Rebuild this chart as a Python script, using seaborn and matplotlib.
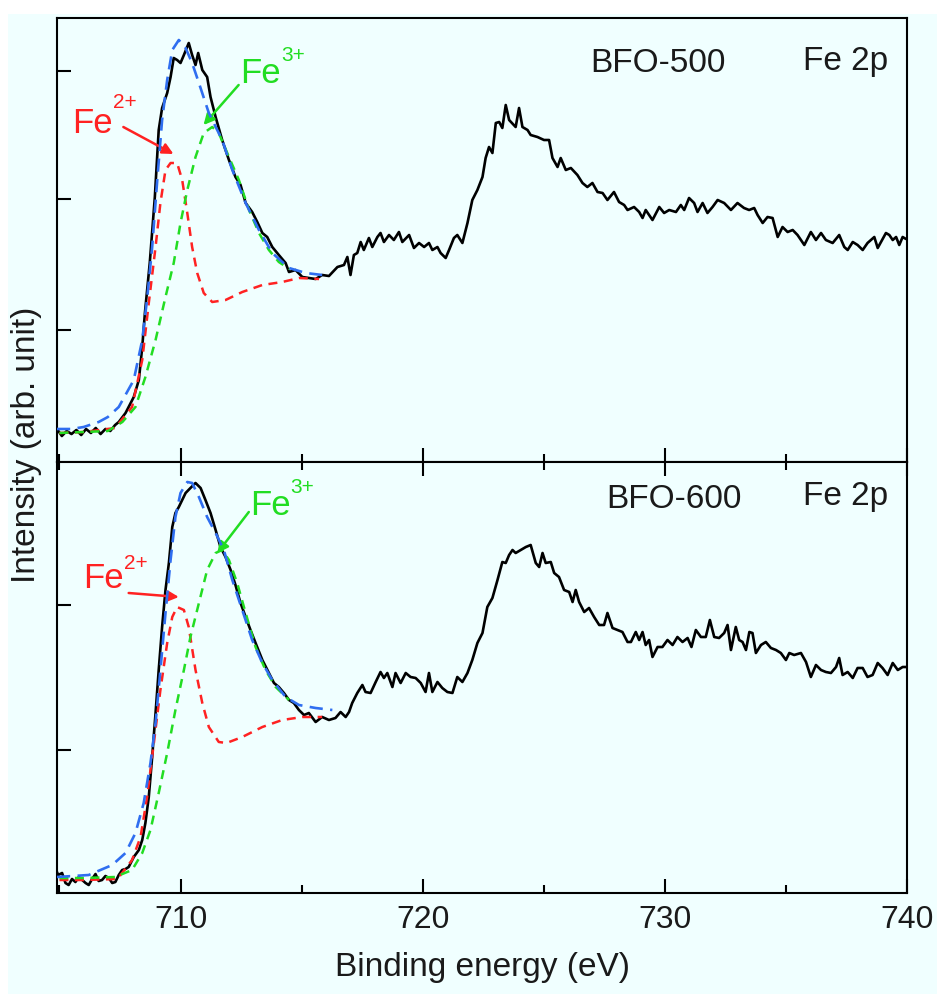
import matplotlib
matplotlib.use("Agg")
import matplotlib.pyplot as plt
import seaborn as sns
from matplotlib.patches import Rectangle
from matplotlib.ticker import MultipleLocator

# ---------------- data (binding energy in eV, intensity in arb. units) ----------------
# BFO-500 (top panel) measured spectrum
e500 = [704.90, 705.10, 705.30, 705.50, 705.70, 705.90, 706.10, 706.30, 706.50, 706.70,
        706.90, 707.10, 707.30, 707.45, 707.73, 708.07, 708.28, 708.42, 708.53, 708.73,
        708.94, 709.10, 709.24, 709.45, 709.59, 709.72, 709.86, 710.00, 710.14, 710.34,
        710.48, 710.62, 710.73, 710.90, 711.10, 711.24, 711.45, 711.72, 712.00, 712.27,
        712.48, 712.69, 712.96, 713.17, 713.38, 713.58, 713.79, 714.06, 714.34, 714.48,
        714.75, 715.03, 715.30, 715.58, 715.85, 716.13, 716.48, 716.75, 716.89, 717.02,
        717.16, 717.30, 717.44, 717.57, 717.78, 717.92, 718.13, 718.26, 718.40, 718.61,
        718.81, 719.02, 719.16, 719.44, 719.64, 719.85, 720.06, 720.26, 720.40, 720.61,
        720.74, 720.95, 721.09, 721.29, 721.43, 721.64, 721.85, 722.05, 722.26, 722.47,
        722.60, 722.74, 722.88, 723.02, 723.16, 723.29, 723.43, 723.57, 723.84, 723.98,
        724.12, 724.33, 724.46, 724.74, 725.01, 725.22, 725.36, 725.57, 725.70, 725.91,
        726.12, 726.39, 726.60, 726.80, 727.01, 727.22, 727.43, 727.63, 727.90, 728.11,
        728.32, 728.46, 728.73, 728.94, 729.08, 729.21, 729.49, 729.77, 729.97, 730.18,
        730.46, 730.66, 730.80, 731.00, 731.21, 731.35, 731.56, 731.76, 731.97, 732.18,
        732.45, 732.73, 733.00, 733.27, 733.48, 733.69, 733.83, 734.04, 734.24, 734.45,
        734.66, 734.86, 735.07, 735.28, 735.48, 735.76, 736.03, 736.24, 736.45, 736.65,
        736.93, 737.20, 737.41, 737.55, 737.76, 737.96, 738.17, 738.37, 738.65, 738.79,
        739.13, 739.27, 739.41, 739.55, 739.68, 739.82, 739.96]
i500 = [33, 26, 31, 28, 32, 27, 33, 29, 34, 28,
        33, 31, 37, 40, 49, 65, 82, 115, 149, 199,
        265, 332, 354, 369, 385, 404, 402, 399, 407, 419,
        407, 397, 409, 392, 385, 365, 345, 322, 302, 285,
        277, 259, 250, 240, 229, 225, 215, 207, 199, 190,
        192, 185, 184, 183, 187, 186, 195, 197, 205, 187,
        207, 209, 220, 212, 224, 215, 225, 229, 220, 227,
        222, 230, 220, 227, 214, 219, 215, 219, 212, 215,
        209, 204, 212, 224, 227, 219, 239, 262, 272, 285,
        304, 315, 309, 339, 340, 334, 357, 342, 335, 354,
        335, 332, 327, 325, 322, 322, 304, 295, 304, 292,
        294, 287, 279, 275, 279, 270, 269, 262, 270, 260,
        257, 252, 255, 250, 244, 252, 242, 255, 249, 252,
        250, 257, 252, 264, 259, 250, 259, 249, 255, 262,
        259, 252, 259, 254, 252, 254, 247, 239, 245, 244,
        225, 235, 230, 232, 227, 217, 230, 222, 229, 222,
        219, 227, 215, 212, 220, 217, 212, 219, 225, 214,
        229, 227, 222, 225, 217, 225, 223]

# BFO-500 fitted components
e500_fe2 = [705.00, 706.00, 707.30, 708.00, 708.42, 708.69, 708.97, 709.17, 709.38, 709.59,
            709.86, 710.07, 710.28, 710.48, 710.69, 710.96, 711.31, 711.86, 712.55, 713.38,
            714.20, 714.90, 715.72]
i500_fe2 = [29, 30, 34, 55, 102, 159, 215, 259, 292, 299,
            299, 282, 249, 215, 189, 169, 160, 162, 170, 177,
            180, 184, 183]
e500_fe3 = [705.00, 706.00, 707.00, 707.60, 708.14, 708.55, 708.97, 709.38, 709.72, 710.00,
            710.28, 710.62, 710.96, 711.31, 711.58, 712.00, 712.41, 712.83, 713.24, 713.65,
            714.06, 714.50]
i500_fe3 = [29, 30, 31, 40, 55, 85, 122, 165, 199, 239,
            272, 305, 329, 335, 329, 305, 282, 252, 229, 212,
            200, 193]
e500_fit = [704.90, 705.50, 706.00, 706.62, 707.00, 707.45, 708.07, 708.42, 708.63, 708.83,
            709.04, 709.24, 709.45, 709.66, 709.93, 710.21, 710.48, 710.76, 711.17, 711.72,
            712.14, 712.69, 713.24, 713.79, 714.48, 715.17, 715.85]
i500_fit = [33, 33, 35, 40, 45, 55, 82, 122, 165, 215,
            282, 342, 382, 412, 422, 414, 399, 379, 349, 322,
            292, 259, 232, 209, 194, 189, 187]

# BFO-600 (bottom panel) measured spectrum
e600 = [704.83, 704.95, 705.11, 705.25, 705.38, 705.52, 705.66, 705.80, 705.94, 706.08,
        706.21, 706.35, 706.49, 706.62, 706.76, 706.90, 707.04, 707.18, 707.31, 707.45,
        707.59, 707.73, 707.86, 708.07, 708.28, 708.42, 708.55, 708.69, 708.83, 708.97,
        709.10, 709.24, 709.38, 709.52, 709.66, 709.79, 709.93, 710.07, 710.21, 710.41,
        710.62, 710.83, 711.03, 711.24, 711.45, 711.65, 711.86, 712.07, 712.27, 712.48,
        712.69, 712.89, 713.10, 713.38, 713.65, 713.86, 714.06, 714.27, 714.48, 714.68,
        714.89, 715.10, 715.30, 715.58, 715.85, 716.13, 716.40, 716.61, 716.82, 716.96,
        717.09, 717.30, 717.51, 717.64, 717.85, 718.06, 718.26, 718.40, 718.54, 718.75,
        718.88, 719.09, 719.30, 719.50, 719.71, 719.92, 720.12, 720.26, 720.40, 720.61,
        720.81, 721.02, 721.23, 721.43, 721.64, 721.85, 722.05, 722.26, 722.47, 722.67,
        722.88, 723.09, 723.29, 723.43, 723.57, 723.71, 723.84, 724.05, 724.26, 724.46,
        724.67, 724.81, 724.95, 725.08, 725.29, 725.43, 725.63, 725.84, 726.05, 726.19,
        726.32, 726.46, 726.67, 726.87, 727.08, 727.29, 727.49, 727.63, 727.84, 728.05,
        728.25, 728.46, 728.60, 728.80, 728.94, 729.08, 729.21, 729.35, 729.49, 729.70,
        729.90, 730.11, 730.32, 730.52, 730.73, 730.94, 731.10, 731.28, 731.49, 731.69,
        731.86, 732.04, 732.24, 732.45, 732.59, 732.73, 732.93, 733.07, 733.21, 733.35,
        733.49, 733.62, 733.76, 733.97, 734.17, 734.38, 734.59, 734.79, 735.00, 735.14,
        735.34, 735.62, 735.83, 736.03, 736.24, 736.45, 736.65, 736.86, 737.07, 737.20,
        737.34, 737.55, 737.76, 737.96, 738.17, 738.37, 738.58, 738.79, 738.99, 739.20,
        739.41, 739.62, 739.82, 739.96]
i600 = [25, 18, 20, 10, 8, 14, 11, 16, 13, 10,
        8, 14, 19, 12, 13, 17, 15, 10, 11, 18,
        23, 24, 26, 36, 43, 53, 70, 96, 136, 180,
        223, 266, 303, 330, 366, 380, 386, 393, 400, 405,
        410, 405, 393, 380, 363, 346, 336, 323, 308, 290,
        276, 263, 250, 233, 220, 210, 206, 200, 193, 190,
        183, 178, 180, 171, 176, 173, 175, 181, 176, 181,
        190, 200, 208, 201, 200, 211, 221, 215, 220, 206,
        220, 210, 220, 216, 215, 210, 201, 220, 201, 211,
        205, 201, 200, 216, 211, 220, 233, 250, 260, 286,
        295, 313, 331, 330, 338, 343, 340, 343, 346, 348,
        330, 326, 340, 330, 331, 320, 316, 303, 301, 291,
        303, 291, 281, 285, 276, 268, 268, 280, 265, 263,
        261, 251, 251, 261, 253, 261, 248, 253, 236, 246,
        246, 253, 248, 256, 251, 255, 246, 263, 256, 256,
        273, 256, 255, 260, 268, 243, 266, 253, 251, 243,
        261, 260, 240, 248, 251, 245, 243, 240, 233, 240,
        238, 240, 231, 216, 228, 223, 221, 220, 226, 235,
        218, 221, 215, 225, 225, 216, 218, 230, 225, 218,
        230, 223, 226, 226]

# BFO-600 fitted components
e600_fe2 = [705.00, 706.00, 707.40, 708.00, 708.35, 708.62, 708.90, 709.17, 709.45, 709.66,
            709.86, 710.14, 710.34, 710.62, 710.90, 711.17, 711.58, 711.90, 712.55, 713.38,
            714.20, 715.03, 715.85]
i600_fe2 = [13, 13, 14, 33, 56, 96, 150, 203, 250, 276,
            286, 283, 266, 223, 190, 166, 151, 150, 156, 166,
            173, 176, 176]
e600_fe3 = [705.00, 706.00, 707.30, 708.00, 708.42, 708.76, 709.10, 709.45, 709.79, 710.14,
            710.41, 710.76, 711.10, 711.45, 711.72, 712.00, 712.34, 712.69, 713.10, 713.51,
            713.93, 714.48]
i600_fe3 = [15, 15, 16, 23, 40, 63, 100, 140, 183, 223,
            256, 290, 323, 340, 343, 333, 310, 280, 246, 223,
            206, 193]
e600_fit = [704.90, 706.21, 707.18, 707.73, 708.14, 708.48, 708.76, 708.97, 709.17, 709.38,
            709.59, 709.79, 710.00, 710.28, 710.48, 710.76, 711.10, 711.45, 711.79, 712.14,
            712.55, 712.96, 713.38, 713.79, 714.34, 714.89, 715.58, 716.27]
i600_fit = [16, 18, 28, 40, 60, 90, 130, 170, 223, 280,
            333, 376, 400, 411, 410, 396, 376, 360, 343, 313,
            283, 253, 230, 213, 196, 188, 185, 183]

x_ticks = [710, 720, 730, 740]
x_tick_labels = ["710", "720", "730", "740"]
sample_labels = ["BFO-500", "BFO-600"]

# ---------------- style ----------------
sns.set_theme(style="ticks")
plt.rcParams["font.family"] = ["Liberation Sans", "DejaVu Sans"]

BG = "#F0FFFF"
RED = "#FF2222"
GREEN = "#22DD22"
BLUE = "#2F6EF0"
TXT = "#1A1A1A"

fig = plt.figure(figsize=(9.4, 9.94), dpi=100)
fig.patch.set_facecolor("white")
fig.add_artist(Rectangle((8 / 940, 0), (937 - 8) / 940, 1 - 14 / 994,
                         transform=fig.transFigure, facecolor=BG,
                         edgecolor="none", zorder=0))

left = 57 / 940
width = (907 - 57) / 940
ax1 = fig.add_axes([left, 1 - 462 / 994, width, (462 - 18) / 994])
ax2 = fig.add_axes([left, 1 - 893 / 994, width, (893 - 462) / 994])

panels = [
    (ax1, e500, i500, e500_fe2, i500_fe2, e500_fe3, i500_fe3, e500_fit, i500_fit),
    (ax2, e600, i600, e600_fe2, i600_fe2, e600_fe3, i600_fe3, e600_fit, i600_fit),
]
dash = (0, (3.6, 2.6))
for ax, ex, iy, e2, i2, e3, i3, ef, fi in panels:
    ax.set_facecolor(BG)
    sns.lineplot(x=ex, y=iy, ax=ax, color="black", lw=1.9, estimator=None,
                 sort=False, zorder=3)
    sns.lineplot(x=e2, y=i2, ax=ax, color=RED, lw=1.8, linestyle=dash,
                 estimator=None, sort=False, zorder=4)
    sns.lineplot(x=e3, y=i3, ax=ax, color=GREEN, lw=1.8, linestyle=dash,
                 estimator=None, sort=False, zorder=4)
    sns.lineplot(x=ef, y=fi, ax=ax, color=BLUE, lw=1.9, linestyle=(0, (5, 2.8)),
                 estimator=None, sort=False, zorder=5)
    ax.set_xlim(704.9, 740)
    ax.xaxis.set_major_locator(MultipleLocator(10))
    ax.xaxis.set_minor_locator(MultipleLocator(5))
    for s in ax.spines.values():
        s.set_linewidth(1.5)
        s.set_color("black")
    ax.tick_params(which="major", direction="in", length=10, width=1.5, color="black")
    ax.tick_params(which="minor", direction="in", length=6, width=1.5, color="black")
    ax.tick_params(axis="y", which="both", left=True, right=False, labelleft=False)
    ax.set_xlabel("")
    ax.set_ylabel("")

ax1.set_ylim(0, 444)
ax1.set_yticks([132, 263, 391])
ax1.tick_params(axis="x", which="both", bottom=True, top=False, labelbottom=False)

ax2.set_ylim(0, 431)
ax2.set_yticks([143, 288])
ax2.set_xticks(x_ticks)
ax2.set_xticklabels(x_tick_labels)
ax2.tick_params(axis="x", which="both", bottom=True, top=True, labelbottom=True,
                labelsize=23, pad=9, labelcolor=TXT)

# sample labels
ax1.text(729.73, 390, sample_labels[0], fontsize=24, color=TXT, ha="center", va="baseline")
ax1.text(737.46, 392, "Fe 2p", fontsize=24, color=TXT, ha="center", va="baseline")
ax2.text(730.39, 385, sample_labels[1], fontsize=24, color=TXT, ha="center", va="baseline")
ax2.text(737.46, 388, "Fe 2p", fontsize=24, color=TXT, ha="center", va="baseline")

arrow = dict(arrowstyle="-|>", lw=1.8, mutation_scale=16, shrinkA=0, shrinkB=0)

# top panel annotations
ax1.text(705.54, 329, "Fe", fontsize=25, color=RED, ha="left", va="baseline")
ax1.text(707.22, 354, "2+", fontsize=15, color=RED, ha="left", va="baseline")
ax1.annotate("", xy=(709.71, 308), xytext=(707.64, 335),
             arrowprops=dict(arrow, color=RED))
ax1.text(712.48, 379, "Fe", fontsize=25, color=GREEN, ha="left", va="baseline")
ax1.text(714.18, 401, "3+", fontsize=15, color=GREEN, ha="left", va="baseline")
ax1.annotate("", xy=(710.95, 337), xytext=(712.40, 377),
             arrowprops=dict(arrow, color=GREEN))

# bottom panel annotations
ax2.text(705.99, 305, "Fe", fontsize=25, color=RED, ha="left", va="baseline")
ax2.text(707.66, 324, "2+", fontsize=15, color=RED, ha="left", va="baseline")
ax2.annotate("", xy=(709.93, 296), xytext=(707.86, 300),
             arrowprops=dict(arrow, color=RED))
ax2.text(712.89, 378, "Fe", fontsize=25, color=GREEN, ha="left", va="baseline")
ax2.text(714.52, 400, "3+", fontsize=15, color=GREEN, ha="left", va="baseline")
ax2.annotate("", xy=(711.52, 340), xytext=(712.82, 381),
             arrowprops=dict(arrow, color=GREEN))

# axis titles
fig.text(482.5 / 940, 1 - 976 / 994, "Binding energy (eV)", fontsize=24, color=TXT,
         ha="center", va="baseline")
fig.text(27 / 940, 1 - 445 / 994, "Intensity (arb. unit)", fontsize=24, color=TXT,
         ha="center", va="center", rotation=90)

fig.savefig("out.png", dpi=100, facecolor=fig.get_facecolor())
